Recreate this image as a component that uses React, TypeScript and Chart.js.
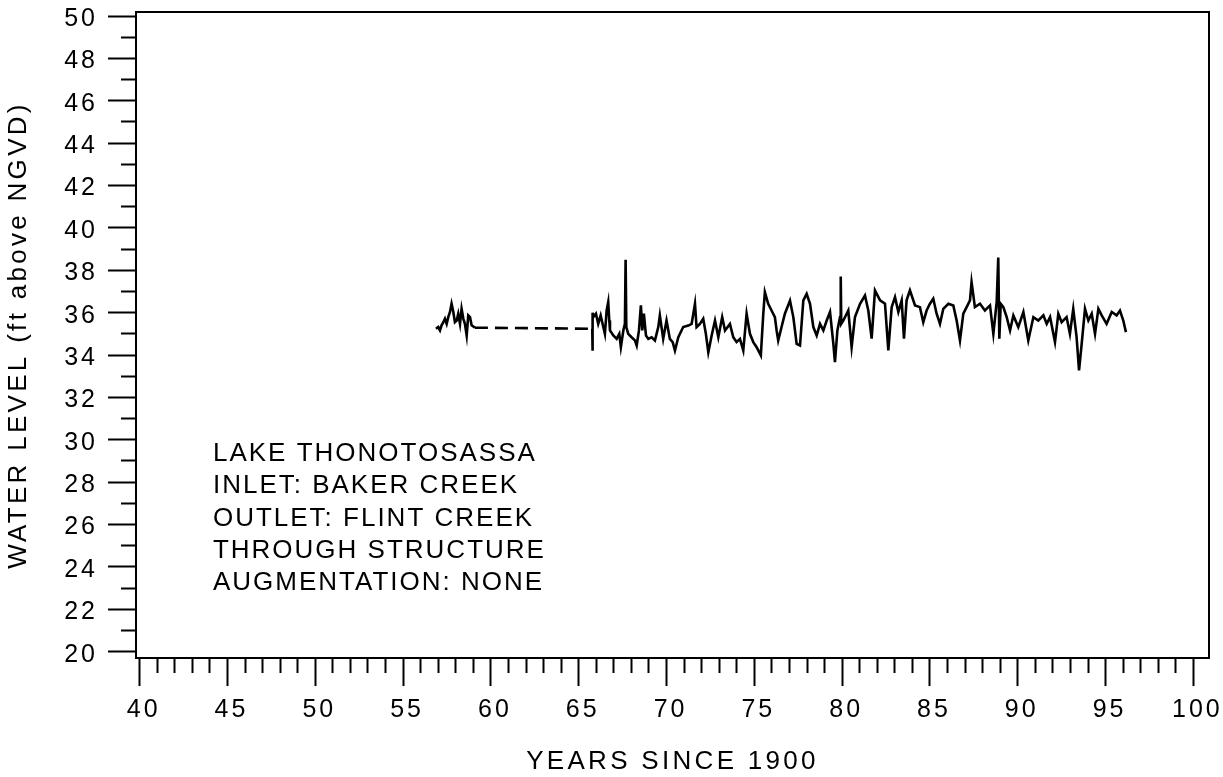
import { useEffect, useRef } from "react";
import { Chart, registerables } from "chart.js";

Chart.register(...registerables);

const FONT = '"Liberation Sans", Arial, Helvetica, sans-serif';

// First record (1957-1959)
const earlyYears = [56.87, 57.0, 57.1, 57.19, 57.29, 57.38, 57.48, 57.57, 57.67, 57.76, 57.86, 57.95, 58.05, 58.14, 58.24, 58.33, 58.43, 58.52, 58.62, 58.71, 58.81, 58.9, 59.09];
const earlyLevels = [35.24, 35.32, 35.16, 35.4, 35.55, 35.71, 35.47, 35.79, 36.03, 36.42, 36.03, 35.55, 35.63, 35.95, 35.47, 36.18, 35.71, 35.47, 34.92, 35.87, 35.79, 35.4, 35.29];

// Second record (1965-1996)
const lateYears = [
  65.77, 65.78, 65.8, 65.83, 65.98, 66.11, 66.25, 66.4, 66.49, 66.59, 66.68, 66.74, 66.78, 66.97, 67.16, 67.31, 67.4, 67.54, 67.63, 67.67,
  67.71, 67.82, 68.01, 68.2, 68.3, 68.43, 68.54, 68.62, 68.71, 68.83, 68.96, 69.15, 69.34, 69.53, 69.62, 69.81, 70.0, 70.19, 70.35, 70.48,
  70.67, 70.95, 71.24, 71.43, 71.62, 71.71, 71.9, 72.09, 72.24, 72.38, 72.57, 72.76, 72.95, 73.17, 73.33, 73.61, 73.8, 73.99, 74.18, 74.37,
  74.56, 74.75, 74.94, 75.13, 75.37, 75.51, 75.6, 75.79, 75.98, 76.17, 76.27, 76.36, 76.55, 76.74, 77.03, 77.22, 77.41, 77.6, 77.79, 77.98,
  78.17, 78.36, 78.55, 78.74, 78.93, 79.12, 79.31, 79.5, 79.59, 79.73, 79.88, 79.92, 79.95, 80.07, 80.35, 80.54, 80.73, 81.02, 81.3, 81.49,
  81.68, 81.87, 82.16, 82.44, 82.63, 82.82, 83.01, 83.2, 83.39, 83.52, 83.67, 83.86, 84.15, 84.43, 84.62, 84.81, 85.0, 85.19, 85.38, 85.57,
  85.76, 86.05, 86.33, 86.52, 86.71, 86.9, 87.09, 87.28, 87.37, 87.56, 87.85, 88.13, 88.42, 88.61, 88.8, 88.89, 88.95, 89.03, 89.18, 89.37,
  89.56, 89.75, 90.03, 90.32, 90.6, 90.89, 91.17, 91.46, 91.65, 91.84, 92.12, 92.31, 92.5, 92.78, 92.97, 93.16, 93.35, 93.49, 93.64, 93.83,
  94.02, 94.21, 94.4, 94.59, 94.78, 95.06, 95.35, 95.63, 95.82, 96.01, 96.16,
];
const lateLevels = [
  35.24, 34.2, 36.0, 35.79, 35.95, 35.47, 35.87, 35.32, 35.0, 36.1, 36.5, 35.63, 35.16, 34.92, 34.76, 35.0, 34.37, 35.16, 35.47, 38.5,
  35.32, 35.0, 34.84, 34.69, 34.45, 35.16, 36.34, 35.16, 35.95, 34.92, 34.76, 34.84, 34.69, 35.32, 35.87, 34.76, 35.63, 34.76, 34.61, 34.21,
  34.84, 35.32, 35.39, 35.47, 36.42, 35.32, 35.47, 35.71, 35.0, 34.13, 34.92, 35.63, 34.84, 35.79, 35.16, 35.47, 34.84, 34.61, 34.76, 34.21,
  35.95, 35.0, 34.61, 34.37, 33.98, 35.95, 36.97, 36.42, 36.1, 35.79, 35.16, 34.69, 35.32, 35.95, 36.57, 35.79, 34.53, 34.45, 36.58, 36.89,
  36.42, 35.32, 34.92, 35.47, 35.16, 35.63, 36.03, 34.53, 33.66, 35.16, 35.79, 37.71, 35.47, 35.63, 36.1, 34.37, 35.79, 36.42, 36.81, 36.1,
  34.77, 37.05, 36.58, 36.42, 34.22, 36.26, 36.73, 36.03, 36.58, 34.77, 36.58, 37.05, 36.34, 36.26, 35.55, 36.1, 36.42, 36.66, 35.95, 35.47,
  36.18, 36.42, 36.34, 35.63, 34.69, 35.95, 36.26, 36.58, 37.44, 36.26, 36.42, 36.1, 36.34, 35.0, 36.5, 38.6, 34.77, 36.42, 36.26, 35.79,
  35.16, 35.87, 35.32, 36.03, 34.69, 35.79, 35.63, 35.87, 35.47, 35.79, 34.61, 35.95, 35.55, 35.79, 35.0, 36.18, 34.85, 33.27, 34.53, 36.18,
  35.63, 35.95, 35.0, 36.18, 35.87, 35.47, 36.03, 35.87, 36.1, 35.63, 35.08,
];

const xLabelValues = [40, 45, 50, 55, 60, 65, 70, 75, 80, 85, 90, 95, 100];
const yLabelValues = [20, 22, 24, 26, 28, 30, 32, 34, 36, 38, 40, 42, 44, 46, 48, 50];
const xTickValues = Array.from({ length: 61 }, (_, i) => 40 + i);
const yTickValues = Array.from({ length: 31 }, (_, i) => 20 + i);

const noteLines = [
  "LAKE THONOTOSASSA",
  "INLET: BAKER CREEK",
  "OUTLET: FLINT CREEK",
  "THROUGH STRUCTURE",
  "AUGMENTATION: NONE",
];

const spacingPlugin = {
  id: "spacingFrame",
  beforeDraw(chart: any) {
    chart.ctx.letterSpacing = "3.3px";
  },
  afterDatasetsDraw(chart: any) {
    chart.ctx.letterSpacing = "3px";
  },
  afterDraw(chart: any) {
    const { ctx, chartArea, scales } = chart;
    ctx.save();
    ctx.letterSpacing = "0px";
    ctx.strokeStyle = "#000";
    ctx.lineWidth = 2;
    ctx.setLineDash([]);
    ctx.strokeRect(chartArea.left, chartArea.top, chartArea.right - chartArea.left, chartArea.bottom - chartArea.top);
    ctx.letterSpacing = "2px";
    ctx.font = `26px ${FONT}`;
    ctx.fillStyle = "#000";
    ctx.textAlign = "left";
    ctx.textBaseline = "alphabetic";
    const x0 = scales.x.getPixelForValue(44.17);
    const y0 = scales.y.getPixelForValue(29.0);
    noteLines.forEach((t, i) => ctx.fillText(t, x0, y0 + i * 32.3));
    ctx.restore();
    ctx.letterSpacing = "0px";
  },
};

export default function App() {
  const ref = useRef<HTMLCanvasElement | null>(null);
  useEffect(() => {
    if (!ref.current) return;
    const points = [
      ...earlyYears.map((x, i) => ({ x, y: earlyLevels[i] })),
      ...lateYears.map((x, i) => ({ x, y: lateLevels[i] })),
    ];
    const chart = new Chart(ref.current, {
      type: "line",
      data: {
        datasets: [
          {
            data: points,
            borderColor: "#000",
            borderWidth: 2.6,
            pointRadius: 0,
            pointHoverRadius: 0,
            tension: 0,
            fill: false,
            segment: {
              borderDash: (c: any) => (c.p1.parsed.x - c.p0.parsed.x > 3 ? [13, 7] : undefined),
            },
          },
        ],
      },
      options: {
        animation: false,
        responsive: false,
        devicePixelRatio: 1,
        layout: { padding: { top: 12, right: 14, left: 0, bottom: 0 }, autoPadding: false },
        plugins: { legend: { display: false }, tooltip: { enabled: false } },
        scales: {
          x: {
            type: "linear",
            position: "bottom",
            min: 39.79,
            max: 100.89,
            afterBuildTicks: (s: any) => {
              s.ticks = xTickValues.map((v) => ({ value: v }));
            },
            afterFit: (s: any) => {
              s.height = 119;
              s.paddingLeft = 0;
              s.paddingRight = 0;
              s.paddingTop = 0;
              s.paddingBottom = 0;
            },
            border: { display: false },
            grid: {
              drawOnChartArea: false,
              drawTicks: true,
              tickLength: 28,
              tickWidth: 2,
              tickColor: "#000",
              tickBorderDash: (c: any) => (c.tick && !xLabelValues.includes(c.tick.value) ? [15, 60] : []),
            },
            ticks: {
              autoSkip: false,
              maxRotation: 0,
              minRotation: 0,
              padding: 9,
              labelOffset: 4,
              z: 1,
              color: "#000",
              font: { family: FONT, size: 25 },
              callback: (v: any) => (xLabelValues.includes(v) ? String(v) : ""),
            },
            title: {
              display: true,
              text: "YEARS SINCE 1900",
              color: "#000",
              font: { family: FONT, size: 26 },
              padding: { top: 0, bottom: 0 },
            },
          },
          y: {
            type: "linear",
            position: "left",
            min: 19.7,
            max: 50.19,
            afterBuildTicks: (s: any) => {
              s.ticks = yTickValues.map((v) => ({ value: v }));
            },
            afterFit: (s: any) => {
              s.width = 136;
              s.paddingLeft = 0;
              s.paddingRight = 0;
              s.paddingTop = 0;
              s.paddingBottom = 0;
            },
            border: { display: false },
            grid: {
              drawOnChartArea: false,
              drawTicks: true,
              tickLength: 28,
              tickWidth: 2,
              tickColor: "#000",
              tickBorderDash: (c: any) => (c.tick && !yLabelValues.includes(c.tick.value) ? [0, 13, 15, 60] : []),
            },
            ticks: {
              autoSkip: false,
              padding: 10,
              labelOffset: 3,
              z: 1,
              color: "#000",
              font: { family: FONT, size: 25 },
              callback: (v: any) => (yLabelValues.includes(v) ? String(v) : ""),
            },
            title: {
              display: true,
              text: "WATER LEVEL (ft above NGVD)",
              color: "#000",
              font: { family: FONT, size: 26 },
              padding: { top: 3.5, bottom: 0 },
            },
          },
        },
      },
      plugins: [spacingPlugin],
    });
    return () => chart.destroy();
  }, []);
  return (
    <div style={{ position: "absolute", left: 0, top: 0, width: 1223, height: 777, background: "#fff" }}>
      <canvas ref={ref} width={1223} height={777} style={{ display: "block" }} />
    </div>
  );
}
